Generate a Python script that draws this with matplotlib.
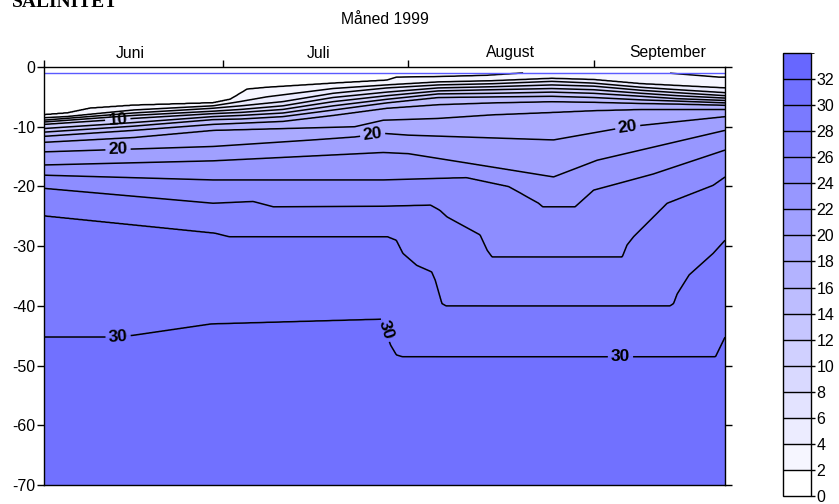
import numpy as np
import matplotlib.pyplot as plt
from matplotlib.colors import ListedColormap, BoundaryNorm
from matplotlib.transforms import blended_transform_factory

plt.rcParams['font.family'] = ['Liberation Sans', 'DejaVu Sans']
plt.rcParams['axes.unicode_minus'] = False

# Isohaline depths (m) through the season; day 0 = 1 June 1999
d02 = [0, 3.9, 7.7, 15, 28.3, 31.2, 34, 37.3, 48.5, 57.4, 59, 66.3, 74, 81, 84, 103, 105, 113, 114]
z02 = [8.0, 7.7, 6.9, 6.4, 6.0, 5.4, 3.7, 3.4, 2.7, 2.2, 1.7, 1.6, 1.4, 0.95, 0.5, 0.5, 1.05, 1.7, 1.7]
d04 = [0, 3.9, 15, 28.3, 32.8, 37.3, 48.4, 57.4, 66, 75, 85, 92, 100, 106, 114]
z04 = [8.5, 8.3, 7.2, 6.5, 5.8, 5.0, 3.6, 3.0, 2.5, 2.3, 1.9, 2.1, 2.8, 3.1, 3.5]
d06 = [0, 15, 28.3, 33, 40, 48.4, 57.4, 66, 75, 85, 92, 100, 106, 114]
z06 = [8.9, 7.7, 6.9, 6.5, 5.8, 4.4, 3.5, 3.0, 2.8, 2.4, 2.7, 3.4, 3.8, 4.3]
d08 = [0, 15, 28.3, 33, 40, 48.4, 57.4, 66, 75, 85, 92, 100, 106, 114]
z08 = [9.2, 8.1, 7.4, 7.1, 6.5, 5.1, 4.2, 3.5, 3.3, 3.0, 3.2, 3.9, 4.3, 4.8]
d10 = [0, 15, 28.3, 33, 40, 48.4, 57.4, 66, 75, 85, 92, 100, 106, 114]
z10 = [9.6, 8.6, 7.8, 7.6, 7.1, 5.8, 4.8, 4.0, 3.8, 3.6, 3.8, 4.4, 4.8, 5.2]
d12 = [0, 15, 28.3, 33, 40, 48.4, 57.4, 66, 75, 85, 92, 100, 106, 114]
z12 = [10.3, 9.3, 8.3, 8.1, 7.7, 6.5, 5.4, 4.5, 4.4, 4.2, 4.4, 4.9, 5.3, 5.6]
d14 = [0, 15, 28.3, 33, 40, 48.4, 57.4, 66, 75, 85, 92, 100, 106, 114]
z14 = [10.9, 9.9, 8.8, 8.7, 8.3, 7.2, 6.0, 5.1, 5.0, 4.9, 5.1, 5.5, 5.7, 6.0]
d16 = [0, 15, 28.3, 33, 40, 48.4, 57.4, 66, 75, 85, 92, 100, 106, 114]
z16 = [11.6, 10.6, 9.6, 9.4, 9.1, 8.1, 6.9, 6.3, 6.0, 5.8, 5.9, 6.1, 6.2, 6.4]
d18 = [0, 15, 28.3, 40, 52, 56.8, 66, 75, 85, 92, 100, 114]
z18 = [12.6, 11.8, 10.6, 10.3, 10.0, 8.9, 8.6, 8.0, 7.6, 7.3, 7.1, 7.1]
d20 = [0, 28.3, 45, 52, 56.8, 61, 85.3, 97.7, 114]
z20 = [14.2, 13.3, 12.2, 11.7, 11.1, 11.4, 12.2, 10.0, 8.3]
d22 = [0, 28.3, 56.8, 61, 85.3, 92.6, 114]
z22 = [16.4, 15.7, 14.3, 14.5, 18.4, 15.6, 10.6]
d24 = [0, 28.3, 56.8, 70.7, 77.8, 82.8, 83.5, 88.9, 92, 102, 114]
z24 = [18.1, 18.9, 18.9, 18.5, 20.0, 22.8, 23.4, 23.4, 20.6, 17.9, 13.9]
d26 = [0, 28.3, 35, 38.4, 56.8, 64.7, 66.3, 67.5, 73, 74.2, 75, 96.8, 97.6, 98.7, 104.3, 112, 114]
z26 = [20.3, 22.8, 22.5, 23.4, 23.3, 23.1, 24.0, 25.1, 28.1, 30.7, 31.8, 31.8, 29.8, 28.4, 22.8, 19.8, 18.4]
d28 = [0, 28.6, 31, 57.5, 59, 60.1, 62.4, 64.9, 65.5, 66.6, 67.3, 104.8, 105.4, 106, 108, 112, 114]
z28 = [24.9, 27.8, 28.4, 28.4, 29.0, 31.2, 33.2, 34.3, 35.7, 39.6, 40.0, 40.0, 39.6, 38.0, 34.8, 31.2, 29.0]
d30 = [0, 12, 15, 28, 56.6, 58.0, 59, 60, 112.4, 114]
z30 = [45.2, 45.2, 44.9, 43.0, 42.2, 46.5, 48.2, 48.5, 48.5, 45.2]

levels = np.arange(2, 32, 2)
isohalines = [(d02, z02), (d04, z04), (d06, z06), (d08, z08), (d10, z10),
              (d12, z12), (d14, z14), (d16, z16), (d18, z18), (d20, z20),
              (d22, z22), (d24, z24), (d26, z26), (d28, z28), (d30, z30)]

# where the labelled isohalines carry their numbers (day, depth)
lab10 = [(12.4, -9.5)]
lab20 = [(12.4, -14.1), (55, -11.2), (97.7, -10.0)]
lab30 = [(12.4, -45.1), (57.3, -44.0), (96.5, -48.5)]

month_names = ['Juni', 'Juli', 'August', 'September']
month_label_day = [14.4, 45.9, 78.1, 104.4]
month_start_day = [0, 30, 61, 92]

# build salinity field by interpolating between isohalines in each column
x = np.linspace(0, 114, 800)
z = np.linspace(1, 70, 900)
S = np.zeros((len(z), len(x)))
for j, xi in enumerate(x):
    dep = np.array([np.interp(xi, d, zz) for d, zz in isohalines])
    dep = np.maximum.accumulate(dep + np.arange(len(dep)) * 1e-3)
    S[:, j] = np.interp(z, np.r_[-1, dep, 71], np.r_[0, levels, 31.6])

fill_levels = np.arange(0, 36, 2)
grey = 255 - 9.5 * np.arange(len(fill_levels) - 1)
cmap = ListedColormap([(g / 255, g / 255, 1.0) for g in grey])
norm = BoundaryNorm(fill_levels, cmap.N)

fig = plt.figure(figsize=(8.39, 5.04), dpi=100)
ax = fig.add_axes([44 / 839, 19 / 504, 681 / 839, 418 / 504])

cf = ax.contourf(x, -z, S, levels=fill_levels, cmap=cmap, norm=norm)
plain = [l for l in levels if l not in (10, 20, 30)]
ax.contour(x, -z, S, levels=plain, colors='black', linewidths=1.1)
for lev, pos in [(10, lab10), (20, lab20), (30, lab30)]:
    c = ax.contour(x, -z, S, levels=[lev], colors='black', linewidths=1.1)
    for t in ax.clabel(c, fmt='%d', fontsize=12.5, inline=True, inline_spacing=3, manual=pos):
        t.set_fontweight('bold')
ax.plot([0, 114], [-1, -1], color='#5a5aff', lw=1.0)

ax.set_xlim(0, 114)
ax.set_ylim(-70, 0)
ax.set_yticks(range(-70, 1, 10))
ax.tick_params(axis='y', left=True, right=True, labelright=False, direction='out',
               length=5, width=1, labelsize=11.5, pad=1)
ax.set_xticks(month_start_day)
ax.tick_params(axis='x', bottom=False, top=True, labelbottom=False, labeltop=False,
               direction='out', length=5, width=1)
for s in ax.spines.values():
    s.set_linewidth(1)

tr = blended_transform_factory(ax.transData, ax.transAxes)
for name, dx in zip(month_names, month_label_day):
    ax.text(dx, 1 + 14 / 418, name, transform=tr, ha='center', va='center', fontsize=11.3)

fig.text(385 / 839, 1 - 20 / 504, 'Måned 1999', ha='center', va='center', fontsize=11.3)
fig.text(12 / 839, 1 - 7 / 504, 'SALINITET', family=['Liberation Serif'],
         fontweight='bold', fontsize=14, ha='left', va='baseline')

cax = fig.add_axes([783 / 839, 8 / 504, 28 / 839, 443 / 504])
cb = fig.colorbar(cf, cax=cax, ticks=np.arange(0, 33, 2), drawedges=True)
cb.outline.set_linewidth(1)
cb.dividers.set_color('black')
cb.dividers.set_linewidth(1)
cax.tick_params(length=3, width=1, labelsize=11.5, pad=1)

fig.savefig('out.png', dpi=100)
